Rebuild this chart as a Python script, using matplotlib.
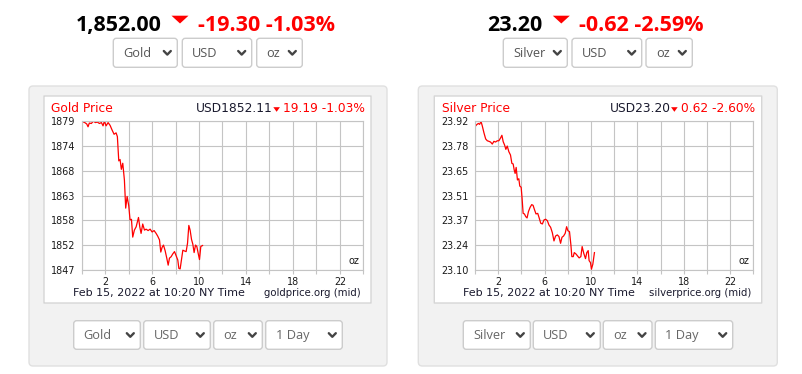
import matplotlib
matplotlib.use('Agg')
import matplotlib.pyplot as plt
from matplotlib.patches import FancyBboxPatch, Polygon
import numpy as np

# --- data ---
gold_hours = [0.00, 0.09, 0.26, 0.43, 0.54, 0.65, 0.82, 0.99, 1.17, 1.34, 1.51, 1.68, 1.82, 1.93,
              2.08, 2.25, 2.42, 2.59, 2.76, 2.93, 3.04, 3.16, 3.27, 3.38, 3.50, 3.64, 3.75, 3.87,
              4.01, 4.12, 4.24, 4.35, 4.49, 4.64, 4.84, 4.95, 5.06, 5.20, 5.35, 5.49, 5.66, 5.83,
              6.00, 6.17, 6.34, 6.48, 6.63, 6.74, 6.85, 6.97, 7.11, 7.25, 7.37, 7.48, 7.62, 7.76,
              7.91, 8.05, 8.19, 8.28, 8.39, 8.50, 8.62, 8.79, 8.90, 9.02, 9.13, 9.24, 9.36, 9.47,
              9.58, 9.70, 9.81, 9.93, 10.04, 10.15, 10.30]
gold_prices = [1878.0, 1878.8, 1878.6, 1878.3, 1877.7, 1878.5, 1878.4, 1878.9, 1878.6, 1878.7,
               1878.4, 1878.6, 1877.9, 1878.9, 1877.9, 1878.6, 1878.0, 1877.0, 1876.1, 1876.4,
               1875.6, 1870.4, 1870.7, 1868.6, 1869.9, 1866.3, 1860.3, 1862.8, 1860.8, 1857.8,
               1857.9, 1854.1, 1855.6, 1856.3, 1858.3, 1856.3, 1854.9, 1856.9, 1855.6, 1855.8,
               1855.5, 1855.8, 1855.2, 1855.5, 1854.9, 1854.3, 1853.5, 1850.9, 1851.9, 1852.4,
               1851.2, 1849.6, 1848.1, 1849.6, 1849.9, 1850.5, 1851.0, 1850.1, 1849.2, 1847.4,
               1847.3, 1849.2, 1851.3, 1851.1, 1851.0, 1852.8, 1856.6, 1855.6, 1853.6, 1852.6,
               1850.8, 1852.4, 1852.1, 1850.6, 1849.3, 1852.1, 1852.3]

silver_hours = [0.00, 0.14, 0.29, 0.40, 0.52, 0.63, 0.77, 0.92, 1.06, 1.20, 1.34, 1.49, 1.63, 1.77,
                1.92, 2.06, 2.20, 2.32, 2.43, 2.55, 2.66, 2.78, 2.92, 3.06, 3.18, 3.29, 3.38, 3.46,
                3.55, 3.66, 3.78, 3.86, 3.98, 4.06, 4.15, 4.26, 4.38, 4.49, 4.61, 4.75, 4.89, 5.01,
                5.12, 5.26, 5.41, 5.52, 5.67, 5.81, 5.95, 6.09, 6.24, 6.38, 6.52, 6.67, 6.81, 6.95,
                7.10, 7.24, 7.38, 7.50, 7.64, 7.78, 7.90, 8.01, 8.15, 8.27, 8.35, 8.47, 8.56, 8.70,
                8.84, 8.98, 9.13, 9.24, 9.38, 9.53, 9.64, 9.76, 9.84, 9.96, 10.04, 10.16, 10.30]
silver_prices = [23.887, 23.898, 23.905, 23.900, 23.916, 23.891, 23.854, 23.820, 23.810, 23.807,
                 23.803, 23.792, 23.807, 23.803, 23.810, 23.810, 23.825, 23.840, 23.805, 23.787,
                 23.763, 23.781, 23.750, 23.732, 23.686, 23.683, 23.650, 23.631, 23.664, 23.595,
                 23.602, 23.562, 23.555, 23.495, 23.412, 23.409, 23.394, 23.387, 23.422, 23.445,
                 23.460, 23.456, 23.434, 23.409, 23.412, 23.390, 23.358, 23.354, 23.376, 23.380,
                 23.372, 23.348, 23.336, 23.306, 23.261, 23.288, 23.294, 23.285, 23.248, 23.281,
                 23.288, 23.303, 23.339, 23.317, 23.312, 23.239, 23.175, 23.175, 23.197, 23.190,
                 23.179, 23.168, 23.175, 23.230, 23.193, 23.164, 23.197, 23.208, 23.153, 23.142,
                 23.106, 23.133, 23.197]

gold_range = (1847, 1879)
silver_range = (23.10, 23.92)

gold_header = ["1,852.00", "-19.30 -1.03%"]
silver_header = ["23.20", "-0.62 -2.59%"]
gold_title = ["Gold Price", "USD1852.11", "19.19 -1.03%"]
silver_title = ["Silver Price", "USD23.20", "0.62 -2.60%"]
gold_source = "goldprice.org (mid)"
silver_source = "silverprice.org (mid)"
date_text = "Feb 15, 2022 at 10:20 NY Time"

gold_top_selects = ["Gold", "USD", "oz"]
silver_top_selects = ["Silver", "USD", "oz"]
gold_bottom_selects = ["Gold", "USD", "oz", "1 Day"]
silver_bottom_selects = ["Silver", "USD", "oz", "1 Day"]

RED = '#ff0000'
W, H = 803, 374

fig = plt.figure(figsize=(W / 100, H / 100), dpi=100)
fig.patch.set_facecolor('white')

# background axes in pixel units (y down)
bg = fig.add_axes([0, 0, 1, 1])
bg.set_xlim(0, W)
bg.set_ylim(H, 0)
bg.axis('off')


def box(x0, y0, x1, y1, fc, ec, r):
    bg.add_patch(FancyBboxPatch((x0, y0), x1 - x0, y1 - y0,
                                boxstyle="round,pad=0,rounding_size=%s" % r,
                                fc=fc, ec=ec, lw=1))


def select(x0, x1, y0, y1, label, color='#555555'):
    box(x0, y0, x1, y1, 'white', '#cccccc', 3)
    cy = (y0 + y1) / 2
    bg.text(x0 + 10, cy + 0.5, label, family='Open Sans', fontsize=9.2,
            color=color, va='center', ha='left')
    cx = x1 - 10
    bg.plot([cx - 3.5, cx, cx + 3.5], [cy - 1.8, cy + 1.8, cy - 1.8],
            color='#444444', lw=1.7, solid_capstyle='round')


def header(x_num, tri_x, x_red, texts):
    bg.text(x_num, 30.5, texts[0], family='Open Sans', fontweight='bold',
            fontsize=15.5, color='black', va='baseline')
    bg.add_patch(Polygon([[tri_x - 8.5, 15.7], [tri_x + 8.5, 15.7], [tri_x, 23.5]],
                         closed=True, fc=RED, ec='none'))
    bg.text(x_red, 30.5, texts[1], family='Open Sans', fontweight='bold',
            fontsize=15.5, color=RED, va='baseline')


def chart_title(x_left, x_right, texts):
    bg.text(x_left, 108.5, texts[0], family='DejaVu Sans', fontsize=8.8,
            color=RED, va='center', ha='left')
    r = fig.canvas.get_renderer()
    t = bg.text(x_right, 108.5, texts[2], family='DejaVu Sans', fontsize=8.8,
                color=RED, va='center', ha='right')
    w = t.get_window_extent(r).width
    tx = x_right - w - 6.5
    bg.add_patch(Polygon([[tx - 3.3, 107.2], [tx + 3.3, 107.2], [tx, 111.8]],
                         closed=True, fc=RED, ec='none'))
    bg.text(tx - 3.6, 108.5, texts[1], family='DejaVu Sans', fontsize=8.8,
            color='#1a1a2e', va='center', ha='right')


def chart(ax, hours, prices, yr, fmt, source, x_date, x_src):
    ax.plot(hours, prices, color=RED, lw=0.9)
    ax.set_xlim(0, 24)
    ax.set_ylim(*yr)
    xt = list(range(0, 25, 2))
    ax.set_xticks(xt)
    ax.set_xticklabels([str(h) if h % 4 == 2 else '' for h in xt])
    yt = np.linspace(yr[0], yr[1], 7)
    ax.set_yticks(yt)
    ax.set_yticklabels([fmt % v for v in yt])
    ax.grid(color='#c4c4c4', lw=0.8)
    ax.set_axisbelow(True)
    for s in ax.spines.values():
        s.set_color('#c4c4c4')
        s.set_linewidth(0.8)
    ax.tick_params(axis='x', length=3, width=0.8, color='#c4c4c4', pad=2,
                   labelsize=6.9, labelcolor='#1a1a1a')
    ax.tick_params(axis='y', length=0, pad=4.8, labelsize=6.9, labelcolor='#1a1a1a')
    for lab in ax.get_xticklabels() + ax.get_yticklabels():
        lab.set_family('DejaVu Sans')
    ax.text(0.985, 0.03, 'oz', transform=ax.transAxes, ha='right', va='bottom',
            fontsize=7, color='#1a1a1a')
    bg.text(x_date, 293, date_text, family='DejaVu Sans', fontsize=8,
            color='#1a1a2e', va='center', ha='left')
    bg.text(x_src, 293, source, family='DejaVu Sans', fontsize=7.3,
            color='#1a1a2e', va='center', ha='right')


# panels
box(29, 86, 387, 366, '#f2f2f2', '#e0e0e0', 4)
box(418.3, 86, 777.3, 366, '#f2f2f2', '#e0e0e0', 4)
box(44, 96, 371, 303, 'white', '#d6d6d6', 0.1)
box(434.3, 96, 761.7, 303, 'white', '#d6d6d6', 0.1)

# headers
header(76, 180, 198.3, gold_header)
header(486.7, 561.3, 579.3, silver_header)

# top selects
for (x0, x1), lab in zip([(113.3, 177.3), (182.3, 251.7), (256.7, 302.3)], gold_top_selects):
    select(x0, x1, 38.3, 67.3, lab)
for (x0, x1), lab in zip([(503.3, 567.3), (572, 641.7), (646, 692.3)], silver_top_selects):
    select(x0, x1, 38.3, 67.3, lab)

# bottom selects
for (x0, x1), lab in zip([(73.7, 140.3), (143.7, 210.3), (213.7, 262.3), (265.7, 342.3)],
                         gold_bottom_selects):
    select(x0, x1, 320.7, 349.3, lab, '#666666')
for (x0, x1), lab in zip([(463.3, 530.3), (533.3, 600.3), (603.3, 652), (655.3, 732.7)],
                         silver_bottom_selects):
    select(x0, x1, 320.7, 349.3, lab, '#666666')

# charts
gax = fig.add_axes([81.7 / W, (H - 270.3) / H, 281.6 / W, 149.6 / H])
sax = fig.add_axes([475 / W, (H - 270.3) / H, 278.3 / W, 149.6 / H])
chart(gax, gold_hours, gold_prices, gold_range, '%.0f', gold_source, 73, 361)
chart(sax, silver_hours, silver_prices, silver_range, '%.2f', silver_source, 463.3, 751)

chart_title(51, 365, gold_title)
chart_title(441.7, 755, silver_title)

fig.savefig('out.png', dpi=100)
